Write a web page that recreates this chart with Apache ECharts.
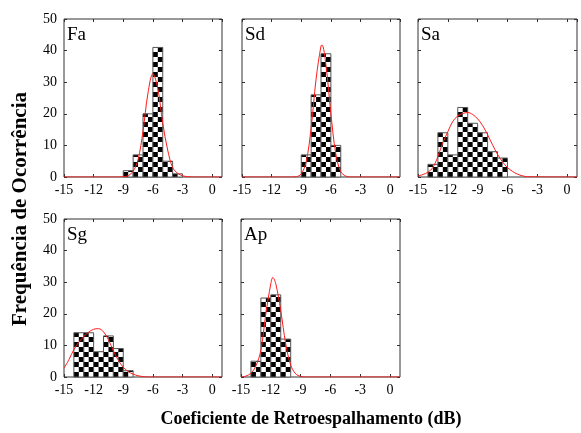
<!DOCTYPE html>
<html><head><meta charset="utf-8">
<script src="https://cdn.jsdelivr.net/npm/echarts@6/dist/echarts.min.js"></script>
<style>html,body{margin:0;padding:0;background:#fff}#c{width:581px;height:433px}</style>
</head><body><div id="c"></div>
<script>
// ---- data ----
const panelNames = ['Fa', 'Sd', 'Sa', 'Sg', 'Ap'];
const xMin = -15, xMax = 1, xStep = 3;
const yMin = 0, yMax = 50, yStep = 10;

// histogram bin edges (dB) and counts
const faEdges = [-9, -8, -7, -6, -5, -4, -3];
const faCounts = [2, 7, 20, 41, 5, 1];
const sdEdges = [-9, -8, -7, -6, -5];
const sdCounts = [7, 26, 39, 10];
const saEdges = [-14, -13, -12, -11, -10, -9, -8, -7, -6];
const saCounts = [4, 14, 7, 22, 17, 14, 8, 6];
const sgEdges = [-14, -13, -12, -11, -10, -9, -8];
const sgCounts = [14, 14, 8, 13, 9, 2];
const apEdges = [-14, -13, -12, -11, -10];
const apCounts = [5, 25, 26, 12];

// fitted curves (red)
const faCurveX = [-15, -9.5, -9, -8.5, -8, -7.5, -7, -6.5, -6, -5.5, -5, -4.5, -4, -3.5, -3, -2.5, -2, 1];
const faCurveY = [0, 0, 0.1, 0.4, 1.8, 5.5, 14.5, 26.5, 32.7, 28, 17, 8.5, 3, 1.2, 0.4, 0.1, 0, 0];
const sdCurveX = [-15, -10, -9.5, -9, -8.5, -8, -7.5, -7, -6.9, -6.5, -6, -5.5, -5, -4.5, -4, 1];
const sdCurveY = [0, 0, 0.1, 1, 4.8, 15.5, 31, 41.5, 41.8, 35.5, 20, 7.3, 1.7, 0.3, 0, 0];
const saCurveX = [-15, -14.5, -14, -13.5, -13, -12.5, -12, -11.5, -11, -10.5, -10, -9.5, -9, -8.5, -8, -7.5, -7, -6.5, -6, -5.5, -5, -4.5, -4, 1];
const saCurveY = [0.3, 0.8, 1.5, 3, 6.5, 10.8, 14.3, 17.6, 19.3, 20.1, 20.4, 19.8, 18.4, 16.3, 13.4, 10.2, 7.2, 4.8, 3, 1.8, 0.9, 0.4, 0.1, 0];
const sgCurveX = [-15, -14.5, -14, -13.5, -13, -12.5, -12, -11.5, -11, -10.5, -10, -9.5, -9, -8.5, -8, -7.5, -7, -6.5, 1];
const sgCurveY = [2.8, 5.5, 8.7, 11, 12.8, 14.2, 15.1, 15.3, 14.3, 11.8, 8.3, 5.3, 3.1, 1.7, 0.9, 0.4, 0.1, 0, 0];
const apCurveX = [-15, -14.5, -14, -13.5, -13, -12.5, -12, -11.8, -11.5, -11, -10.5, -10, -9.5, -9, -8.5, 1];
const apCurveY = [0, 0.3, 1.2, 3.5, 8.5, 20, 29.5, 31.5, 29.5, 21, 10.5, 3.8, 1, 0.2, 0, 0];

const yTitle = 'Frequência de Ocorrência';
const xTitle = 'Coeficiente de Retroespalhamento (dB)';

// ---- layout ----
const grids = [
  {left: 64, top: 19, width: 158, height: 158},
  {left: 242, top: 19, width: 158, height: 158},
  {left: 418, top: 19, width: 159, height: 158},
  {left: 64, top: 219, width: 158, height: 158},
  {left: 241, top: 219, width: 159, height: 158}
];
const hist = [[faEdges, faCounts], [sdEdges, sdCounts], [saEdges, saCounts], [sgEdges, sgCounts], [apEdges, apCounts]];
const curves = [[faCurveX, faCurveY], [sdCurveX, sdCurveY], [saCurveX, saCurveY], [sgCurveX, sgCurveY], [apCurveX, apCurveY]];
const showYLabels = [true, false, false, true, false];

const FONT = '"Liberation Serif", "Times New Roman", serif';
const frameColor = '#333';
const cellH = 5;

function renderBar(params, api) {
  const x0 = api.value(0), x1 = api.value(1), c = api.value(2);
  const pBL = api.coord([x0, 0]), pTR = api.coord([x1, c]);
  const left = pBL[0], right = pTR[0], bottom = pBL[1], top = pTR[1];
  const w = right - left, h = bottom - top;
  const children = [{type: 'rect', shape: {x: left, y: top, width: w, height: h}, style: {fill: '#fff'}}];
  const cw = w / 2;
  const rows = Math.ceil(h / cellH - 0.001);
  for (let r = 0; r < rows; r++) {
    const yb = bottom - r * cellH;
    const yt = Math.max(top, yb - cellH);
    for (let k = 0; k < 2; k++) {
      if ((r + k) % 2 === 0) {
        children.push({type: 'rect', shape: {x: left + k * cw, y: yt, width: cw, height: yb - yt}, style: {fill: '#000'}});
      }
    }
  }
  children.push({type: 'rect', shape: {x: left, y: top, width: w, height: h}, style: {fill: 'none', stroke: '#555', lineWidth: 1}});
  return {type: 'group', children: children};
}

const option = {
  animation: false,
  backgroundColor: '#fff',
  grid: grids.map(g => Object.assign({show: true, borderColor: frameColor, borderWidth: 1, backgroundColor: 'transparent'}, g)),
  xAxis: [],
  yAxis: [],
  series: [],
  title: [],
  graphic: [
    {type: 'text', x: 21, y: 209, rotation: Math.PI / 2,
     style: {text: yTitle, font: 'bold 21px ' + FONT, fill: '#000', textAlign: 'center', textVerticalAlign: 'middle'}},
    {type: 'text', x: 311, y: 419,
     style: {text: xTitle, font: 'bold 18px ' + FONT, fill: '#000', textAlign: 'center', textVerticalAlign: 'middle'}}
  ]
};

grids.forEach((g, i) => {
  const tick = {inside: true, length: 3, lineStyle: {color: frameColor, width: 1}};
  const line = {show: false, onZero: false};
  option.xAxis.push({
    type: 'value', gridIndex: i, position: 'bottom', min: xMin, max: xMax, interval: xStep,
    axisLine: line, axisTick: tick, splitLine: {show: false},
    axisLabel: {showMaxLabel: false, fontFamily: FONT, fontSize: 14, color: '#000', margin: 6}
  });
  option.xAxis.push({
    type: 'value', gridIndex: i, position: 'top', min: xMin, max: xMax, interval: xStep,
    axisLine: line, axisTick: tick, splitLine: {show: false}, axisLabel: {show: false}
  });
  option.yAxis.push({
    type: 'value', gridIndex: i, position: 'left', min: yMin, max: yMax, interval: yStep,
    axisLine: line, axisTick: tick, splitLine: {show: false},
    axisLabel: {show: showYLabels[i], fontFamily: FONT, fontSize: 14, color: '#000', margin: 7}
  });
  option.yAxis.push({
    type: 'value', gridIndex: i, position: 'right', min: yMin, max: yMax, interval: yStep,
    axisLine: line, axisTick: tick, splitLine: {show: false}, axisLabel: {show: false}
  });
  const [edges, counts] = hist[i];
  option.series.push({
    type: 'custom', xAxisIndex: 2 * i, yAxisIndex: 2 * i, renderItem: renderBar,
    encode: {x: [0, 1], y: 2}, z: 2,
    data: counts.map((c, k) => [edges[k], edges[k + 1], c])
  });
  const [cx, cy] = curves[i];
  option.series.push({
    type: 'line', xAxisIndex: 2 * i, yAxisIndex: 2 * i, showSymbol: false, smooth: 0.35, z: 5,
    lineStyle: {color: '#ff1a1a', width: 1}, data: cx.map((x, k) => [x, cy[k]])
  });
  option.title.push({
    text: panelNames[i], left: g.left + 3, top: g.top + 7, padding: 0,
    textStyle: {fontFamily: FONT, fontSize: 19, fontWeight: 'normal', color: '#000'}
  });
});

const chart = echarts.init(document.getElementById('c'), null, {renderer: 'canvas'});
chart.setOption(option);
</script>
</body></html>
